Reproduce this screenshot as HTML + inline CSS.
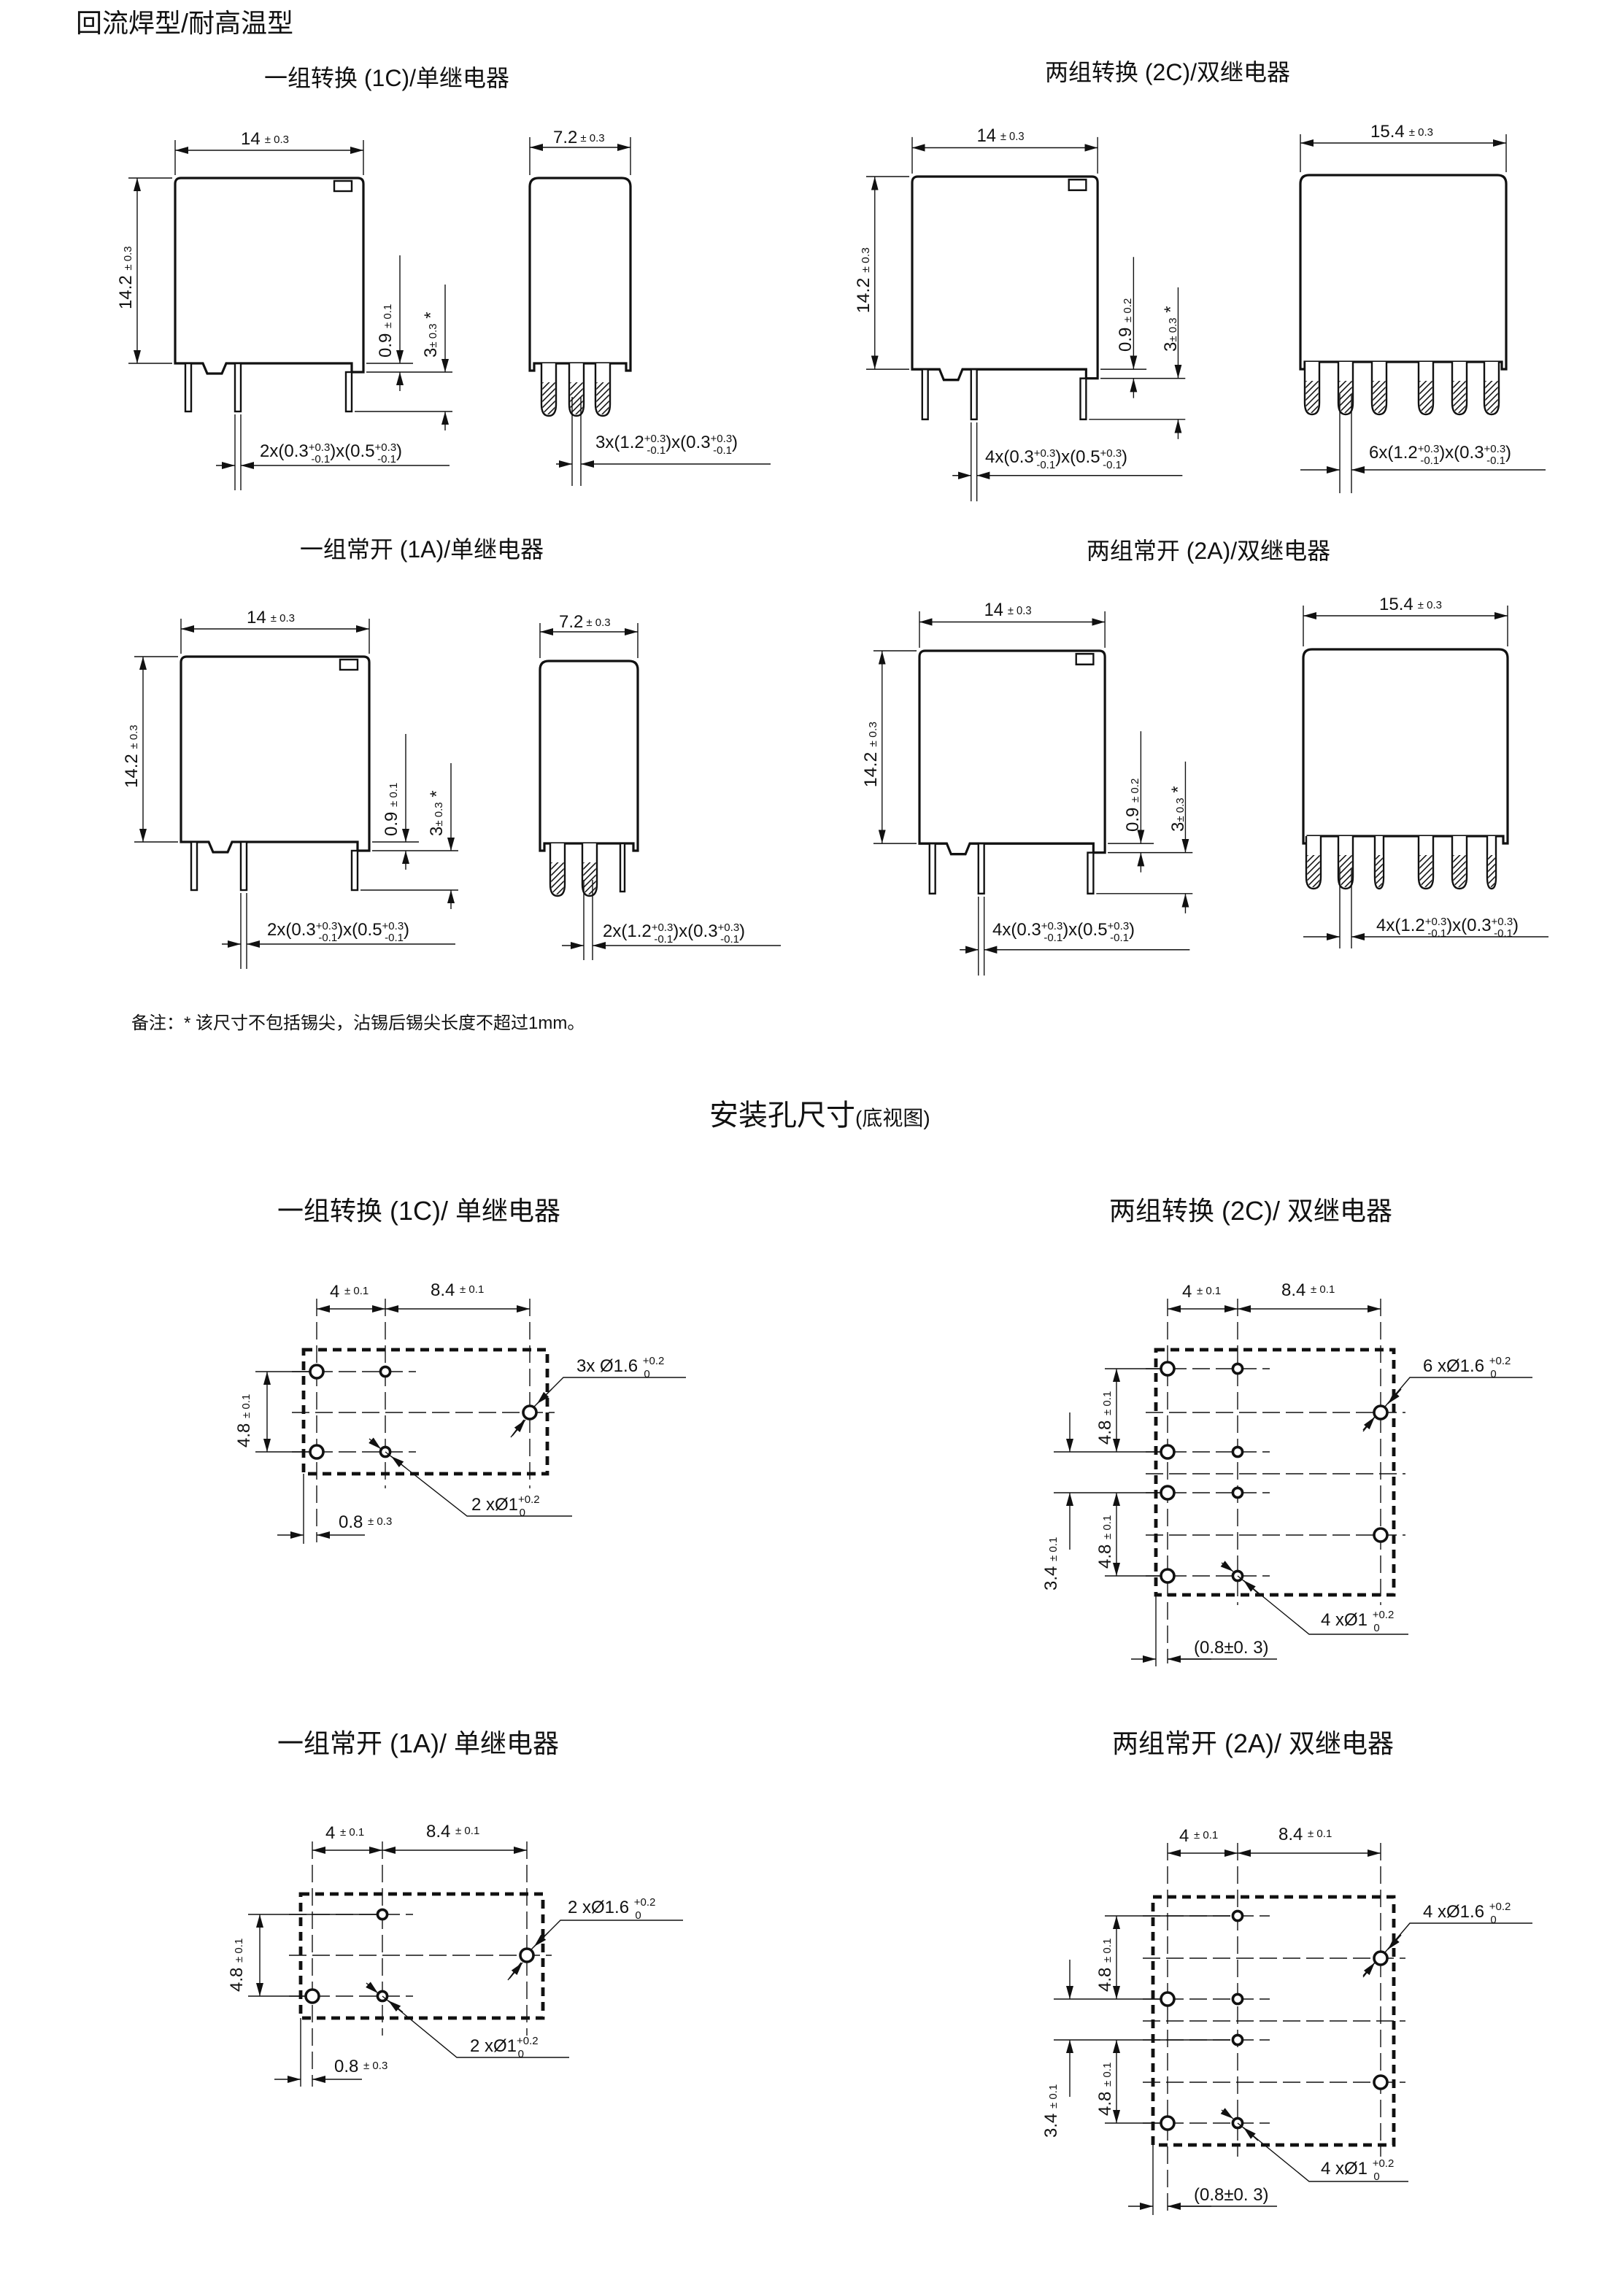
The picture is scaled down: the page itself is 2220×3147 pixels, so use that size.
<!DOCTYPE html>
<html><head><meta charset="utf-8"><style>
html,body{margin:0;padding:0;background:#fff;}
svg{display:block;}
text{font-family:"Liberation Sans","Noto Sans CJK SC",sans-serif;fill:#111;}
.t{font-size:12px;}
.s{font-size:7.5px;}
.ttl{font-size:16px;}
.ln{stroke:#111;stroke-width:0.7;fill:none;}
.dm{stroke:#111;stroke-width:0.7;fill:none;marker-end:url(#ar);}
.dd{stroke:#111;stroke-width:0.7;fill:none;marker-end:url(#ar);marker-start:url(#ar);}
.bd{stroke:#111;stroke-width:1.6;fill:#fff;}
.pn{stroke:#111;stroke-width:1.2;fill:#fff;}
.hole{stroke:#111;stroke-width:1.8;fill:#fff;}
.rect{stroke:#111;stroke-width:2.4;fill:none;stroke-dasharray:6,4;}
.cl{stroke:#111;stroke-width:0.7;fill:none;stroke-dasharray:12,4;}
</style></head><body>
<svg width="2220" height="3147" viewBox="0 0 1110 1573.5" xmlns="http://www.w3.org/2000/svg">
<defs>
<marker id="ar" markerUnits="userSpaceOnUse" markerWidth="9" markerHeight="5" refX="9" refY="2.5" orient="auto-start-reverse"><path d="M0,0 L9,2.5 L0,5 Z" fill="#111"/></marker>
<pattern id="hp" patternUnits="userSpaceOnUse" width="3" height="3" patternTransform="rotate(45)"><rect width="3" height="3" fill="#fff"/><line x1="0" y1="0" x2="0" y2="3" stroke="#111" stroke-width="1.6"/></pattern>
<g id="front">
<path class="bd" d="M0,127 V4 Q0,0 4,0 H125 Q129,0 129,4 V133 H121 V127 H35 L32,134 H22 L19,127 Z"/>
<rect class="pn" x="7" y="127" width="4" height="33"/>
<rect class="pn" x="41" y="127" width="4" height="33"/>
<rect class="pn" x="117" y="133" width="4" height="27"/>
<rect class="pn" x="109" y="2" width="12" height="7"/>
<path class="ln" d="M0,-2 V-26 M129,-2 V-26 M-2,0 H-32 M-2,127 H-32 M131,127 H163 M131,133 H190 M123,160 H190 M41,162 V214 M45,162 V214"/>
<path class="dd" d="M0,-19 H129"/>
<path class="dd" d="M-26,0 V127"/>
<path class="dm" d="M154,53 V127"/><path class="dm" d="M154,146 V133"/>
<path class="dm" d="M185,73 V133"/><path class="dm" d="M185,173 V160"/>
<path class="dm" d="M28,197 H41"/><path class="dm" d="M188,197 H45"/>
<text class="t" x="45" y="-23">14<tspan class="s" dx="3" dy="-1">± 0.3</tspan></text>
<text class="t" transform="translate(-30,90) rotate(-90)">14.2 <tspan class="s">± 0.3</tspan></text>
</g>
<g id="pinH"><path class="pn" d="M-5,0 V28 Q-5,36 0,36 Q5,36 5,28 V0"/><path d="M-4.3,13 V28 Q-4.3,35 0,35 Q4.3,35 4.3,28 V13 Z" fill="url(#hp)"/></g>
<g id="pinN"><path class="pn" d="M-3,0 V28 Q-3,36 0,36 Q3,36 3,28 V0"/><path d="M-2.4,13 V28 Q-2.4,35 0,35 Q2.4,35 2.4,28 V13 Z" fill="url(#hp)"/></g>
</defs>

<text x="52" y="22" style="font-size:18px">回流焊型/耐高温型</text>

<text class="ttl" x="265" y="59" text-anchor="middle">一组转换 (1C)/单继电器</text>
<text class="ttl" x="800" y="55" text-anchor="middle">两组转换 (2C)/双继电器</text>
<text class="ttl" x="289" y="382" text-anchor="middle">一组常开 (1A)/单继电器</text>
<text class="ttl" x="828" y="383" text-anchor="middle">两组常开 (2A)/双继电器</text>

<g transform="translate(120,122)"><use href="#front"/>
<text class="t" transform="translate(148,123) rotate(-90)">0.9 <tspan class="s">± 0.1</tspan></text>
<text class="t" transform="translate(179,123) rotate(-90)">3<tspan class="s">± 0.3</tspan> *</text>
<text class="t" x="58" y="191">2x(0.3<tspan class="s" dy="-4">+0.3</tspan><tspan class="s" dx="-13" dy="8">-0.1</tspan><tspan dy="-4">)x(0.5</tspan><tspan class="s" dy="-4">+0.3</tspan><tspan class="s" dx="-13" dy="8">-0.1</tspan><tspan dy="-4">)</tspan></text>
</g>
<g transform="translate(625,121) scale(0.985,1.04)"><use href="#front"/></g>
<g transform="translate(625,121)">
<text class="t" transform="translate(150,120) rotate(-90)">0.9 <tspan class="s">± 0.2</tspan></text>
<text class="t" transform="translate(181,120) rotate(-90)">3<tspan class="s">± 0.3</tspan> *</text>
<text class="t" x="50" y="196">4x(0.3<tspan class="s" dy="-4">+0.3</tspan><tspan class="s" dx="-13" dy="8">-0.1</tspan><tspan dy="-4">)x(0.5</tspan><tspan class="s" dy="-4">+0.3</tspan><tspan class="s" dx="-13" dy="8">-0.1</tspan><tspan dy="-4">)</tspan></text>
</g>
<g transform="translate(124,450)"><use href="#front"/>
<text class="t" transform="translate(148,123) rotate(-90)">0.9 <tspan class="s">± 0.1</tspan></text>
<text class="t" transform="translate(179,123) rotate(-90)">3<tspan class="s">± 0.3</tspan> *</text>
<text class="t" x="59" y="191">2x(0.3<tspan class="s" dy="-4">+0.3</tspan><tspan class="s" dx="-13" dy="8">-0.1</tspan><tspan dy="-4">)x(0.5</tspan><tspan class="s" dy="-4">+0.3</tspan><tspan class="s" dx="-13" dy="8">-0.1</tspan><tspan dy="-4">)</tspan></text>
</g>
<g transform="translate(630,446) scale(0.985,1.04)"><use href="#front"/></g>
<g transform="translate(630,446)">
<text class="t" transform="translate(150,124) rotate(-90)">0.9 <tspan class="s">± 0.2</tspan></text>
<text class="t" transform="translate(181,124) rotate(-90)">3<tspan class="s">± 0.3</tspan> *</text>
<text class="t" x="50" y="195">4x(0.3<tspan class="s" dy="-4">+0.3</tspan><tspan class="s" dx="-13" dy="8">-0.1</tspan><tspan dy="-4">)x(0.5</tspan><tspan class="s" dy="-4">+0.3</tspan><tspan class="s" dx="-13" dy="8">-0.1</tspan><tspan dy="-4">)</tspan></text>
</g>

<g transform="translate(363,122)">
<path class="bd" d="M0,132 V6 Q0,0 6,0 H63 Q69,0 69,6 V132 H66 V127 H3 V132 Z"/>
<use href="#pinH" x="13" y="127"/><use href="#pinH" x="32" y="127"/><use href="#pinH" x="50" y="127"/>
<path class="ln" d="M0,-2 V-28 M69,-2 V-28 M29,150 V211 M35,150 V211"/>
<path class="dd" d="M0,-21 H69"/>
<path class="dm" d="M18,196 H29"/><path class="dm" d="M165,196 H35"/>
<text class="t" x="16" y="-24">7.2<tspan class="s" dx="2" dy="-1">± 0.3</tspan></text>
<text class="t" x="45" y="185">3x(1.2<tspan class="s" dy="-4">+0.3</tspan><tspan class="s" dx="-13" dy="8">-0.1</tspan><tspan dy="-4">)x(0.3</tspan><tspan class="s" dy="-4">+0.3</tspan><tspan class="s" dx="-13" dy="8">-0.1</tspan><tspan dy="-4">)</tspan></text>
</g>
<g transform="translate(891,120)">
<path class="bd" d="M0,133 V6 Q0,0 6,0 H135 Q141,0 141,6 V133 H138 V128 H3 V133 Z"/>
<use href="#pinH" x="8" y="128"/><use href="#pinH" x="31" y="128"/><use href="#pinH" x="54" y="128"/><use href="#pinH" x="86" y="128"/><use href="#pinH" x="109" y="128"/><use href="#pinH" x="131" y="128"/>
<path class="ln" d="M0,-2 V-28 M141,-2 V-28 M27,150 V218 M35,150 V218"/>
<path class="dd" d="M0,-22 H141"/>
<path class="dm" d="M0,202 H27"/><path class="dm" d="M168,202 H35"/>
<text class="t" x="48" y="-26">15.4<tspan class="s" dx="3" dy="-1">± 0.3</tspan></text>
<text class="t" x="47" y="194">6x(1.2<tspan class="s" dy="-4">+0.3</tspan><tspan class="s" dx="-13" dy="8">-0.1</tspan><tspan dy="-4">)x(0.3</tspan><tspan class="s" dy="-4">+0.3</tspan><tspan class="s" dx="-13" dy="8">-0.1</tspan><tspan dy="-4">)</tspan></text>
</g>
<g transform="translate(370,453)">
<path class="bd" d="M0,130 V6 Q0,0 6,0 H61 Q67,0 67,6 V130 H64 V125 H3 V130 Z"/>
<use href="#pinH" x="12" y="125"/><use href="#pinH" x="34" y="125"/>
<rect class="pn" x="55" y="125" width="3" height="33"/>
<path class="ln" d="M30,150 V205 M36,150 V205"/>
<path class="dd" d="M0,-20 H67"/>
<path class="ln" d="M0,-2 V-26 M67,-2 V-26"/>
<path class="dm" d="M15,195 H30"/><path class="dm" d="M165,195 H36"/>
<text class="t" x="13" y="-23">7.2<tspan class="s" dx="2" dy="-1">± 0.3</tspan></text>
<text class="t" x="43" y="189">2x(1.2<tspan class="s" dy="-4">+0.3</tspan><tspan class="s" dx="-13" dy="8">-0.1</tspan><tspan dy="-4">)x(0.3</tspan><tspan class="s" dy="-4">+0.3</tspan><tspan class="s" dx="-13" dy="8">-0.1</tspan><tspan dy="-4">)</tspan></text>
</g>
<g transform="translate(893,445)">
<path class="bd" d="M0,133 V6 Q0,0 6,0 H134 Q140,0 140,6 V133 H137 V128 H3 V133 Z"/>
<use href="#pinH" x="7" y="128"/><use href="#pinH" x="29" y="128"/><use href="#pinN" x="52" y="128"/><use href="#pinH" x="84" y="128"/><use href="#pinH" x="107" y="128"/><use href="#pinN" x="129" y="128"/>
<path class="ln" d="M0,-2 V-30 M140,-2 V-30 M25,150 V205 M33,150 V205"/>
<path class="dd" d="M0,-23 H140"/>
<path class="dm" d="M0,197 H25"/><path class="dm" d="M168,197 H33"/>
<text class="t" x="52" y="-27">15.4<tspan class="s" dx="3" dy="-1">± 0.3</tspan></text>
<text class="t" x="50" y="193">4x(1.2<tspan class="s" dy="-4">+0.3</tspan><tspan class="s" dx="-13" dy="8">-0.1</tspan><tspan dy="-4">)x(0.3</tspan><tspan class="s" dy="-4">+0.3</tspan><tspan class="s" dx="-13" dy="8">-0.1</tspan><tspan dy="-4">)</tspan></text>
</g>

<text x="90" y="705" style="font-size:12px">备注：* 该尺寸不包括锡尖，沾锡后锡尖长度不超过1mm。</text>
<text x="486" y="771" style="font-size:20px">安装孔尺寸<tspan style="font-size:14px">(底视图)</tspan></text>

<text x="190" y="836" style="font-size:18px">一组转换 (1C)/ 单继电器</text>
<text x="760" y="836" style="font-size:18px">两组转换 (2C)/ 双继电器</text>
<text x="190" y="1201" style="font-size:18px">一组常开 (1A)/ 单继电器</text>
<text x="762" y="1201" style="font-size:18px">两组常开 (2A)/ 双继电器</text>

<g>
<path class="cl" d="M200,940 H285 M200,995 H285 M200,968 H380 M217,890 V1057 M264,890 V1020 M363,890 V1020"/>
<rect class="rect" x="208" y="925" width="167" height="85"/>
<circle class="hole" cx="217" cy="940" r="4.5"/><circle class="hole" cx="217" cy="995" r="4.5"/>
<circle class="hole" cx="264" cy="940" r="3.3"/><circle class="hole" cx="264" cy="995" r="3.3"/>
<circle class="hole" cx="363" cy="968" r="4.5"/>
<path class="ln" d="M175,940 H212 M175,995 H212 M208,1010 V1058"/>
<path class="dd" d="M183,940 V995"/>
<path class="dd" d="M217,897 H264"/><path class="dd" d="M264,897 H363"/>
<path class="dm" d="M190,1052 H208"/><path class="dm" d="M250,1052 H217"/>
<path class="ln" d="M366,964 L386,944 H470 M350,985 L359,973"/>
<path class="dm" d="M378,952 L368,962"/><path class="dm" d="M351,984 L360,973"/>
<path class="ln" d="M264,995 L320,1039 H392"/>
<path class="dm" d="M253,986 L261,993"/><path class="dm" d="M278,1006 L268,998"/>
<text class="t" x="226" y="889">4 <tspan class="s" dy="-2">± 0.1</tspan></text>
<text class="t" x="295" y="888">8.4 <tspan class="s" dy="-2">± 0.1</tspan></text>
<text class="t" transform="translate(171,992) rotate(-90)">4.8 <tspan class="s">± 0.1</tspan></text>
<text class="t" x="395" y="940">3x Ø1.6 <tspan class="s" dy="-5">+0.2</tspan><tspan class="s" dx="-14" dy="9">0</tspan></text>
<text class="t" x="323" y="1035">2 xØ1<tspan class="s" dy="-5">+0.2</tspan><tspan class="s" dx="-14" dy="9">0</tspan></text>
<text class="t" x="232" y="1047">0.8 <tspan class="s" dy="-2">± 0.3</tspan></text>
</g>

<g>
<path class="cl" d="M785,938 H870 M785,995 H870 M785,1023 H870 M785,1080 H870 M785,968 H963 M785,1010 H963 M785,1052 H963 M800,890 V1140 M848,890 V1100 M946,890 V1100"/>
<rect class="rect" x="792" y="925" width="163" height="168"/>
<circle class="hole" cx="800" cy="938" r="4.5"/><circle class="hole" cx="800" cy="995" r="4.5"/><circle class="hole" cx="800" cy="1023" r="4.5"/><circle class="hole" cx="800" cy="1080" r="4.5"/>
<circle class="hole" cx="848" cy="938" r="3.3"/><circle class="hole" cx="848" cy="995" r="3.3"/><circle class="hole" cx="848" cy="1023" r="3.3"/><circle class="hole" cx="848" cy="1080" r="3.3"/>
<circle class="hole" cx="946" cy="968" r="4.5"/><circle class="hole" cx="946" cy="1052" r="4.5"/>
<path class="ln" d="M757,938 H796 M722,995 H796 M722,1023 H796 M757,1080 H796 M792,1093 V1142"/>
<path class="dd" d="M765,938 V995"/><path class="dd" d="M765,1023 V1080"/>
<path class="dm" d="M733,968 V995"/><path class="dm" d="M733,1062 V1023"/>
<path class="dd" d="M800,897 H848"/><path class="dd" d="M848,897 H946"/>
<path class="dm" d="M775,1137 H792"/><path class="dm" d="M830,1137 H800"/>
<path class="ln" d="M800,1137 H875"/>
<path class="ln" d="M949,964 L966,944 H1050 M934,980 L942,971"/>
<path class="dm" d="M960,952 L951,962"/><path class="dm" d="M934,981 L942,971"/>
<path class="ln" d="M848,1080 L897,1120 H965"/>
<path class="dm" d="M837,1071 L845,1077"/><path class="dm" d="M862,1092 L852,1083"/>
<text class="t" x="810" y="889">4 <tspan class="s" dy="-2">± 0.1</tspan></text>
<text class="t" x="878" y="888">8.4 <tspan class="s" dy="-2">± 0.1</tspan></text>
<text class="t" transform="translate(761,990) rotate(-90)">4.8 <tspan class="s">± 0.1</tspan></text>
<text class="t" transform="translate(761,1075) rotate(-90)">4.8 <tspan class="s">± 0.1</tspan></text>
<text class="t" transform="translate(724,1090) rotate(-90)">3.4 <tspan class="s">± 0.1</tspan></text>
<text class="t" x="975" y="940">6 xØ1.6 <tspan class="s" dy="-5">+0.2</tspan><tspan class="s" dx="-14" dy="9">0</tspan></text>
<text class="t" x="905" y="1114">4 xØ1 <tspan class="s" dy="-5">+0.2</tspan><tspan class="s" dx="-14" dy="9">0</tspan></text>
<text class="t" x="818" y="1133">(0.8±0. 3)</text>
</g>

<g>
<path class="cl" d="M198,1312 H283 M198,1368 H283 M198,1340 H378 M214,1262 V1430 M262,1262 V1395 M361,1262 V1395"/>
<rect class="rect" x="206" y="1298" width="166" height="85"/>
<circle class="hole" cx="214" cy="1368" r="4.5"/>
<circle class="hole" cx="262" cy="1312" r="3.3"/><circle class="hole" cx="262" cy="1368" r="3.3"/>
<circle class="hole" cx="361" cy="1340" r="4.5"/>
<path class="ln" d="M170,1312 H258 M170,1368 H209 M206,1383 V1430"/>
<path class="dd" d="M178,1312 V1368"/>
<path class="dd" d="M214,1268 H262"/><path class="dd" d="M262,1268 H361"/>
<path class="dm" d="M188,1425 H206"/><path class="dm" d="M248,1425 H214"/>
<path class="ln" d="M364,1336 L384,1316 H468 M348,1357 L357,1345"/>
<path class="dm" d="M376,1324 L366,1334"/><path class="dm" d="M349,1356 L358,1345"/>
<path class="ln" d="M262,1368 L313,1410 H390"/>
<path class="dm" d="M251,1359 L259,1366"/><path class="dm" d="M276,1379 L266,1371"/>
<text class="t" x="223" y="1260">4 <tspan class="s" dy="-2">± 0.1</tspan></text>
<text class="t" x="292" y="1259">8.4 <tspan class="s" dy="-2">± 0.1</tspan></text>
<text class="t" transform="translate(166,1365) rotate(-90)">4.8 <tspan class="s">± 0.1</tspan></text>
<text class="t" x="389" y="1311">2 xØ1.6 <tspan class="s" dy="-5">+0.2</tspan><tspan class="s" dx="-14" dy="9">0</tspan></text>
<text class="t" x="322" y="1406">2 xØ1<tspan class="s" dy="-5">+0.2</tspan><tspan class="s" dx="-14" dy="9">0</tspan></text>
<text class="t" x="229" y="1420">0.8 <tspan class="s" dy="-2">± 0.3</tspan></text>
</g>

<g>
<path class="cl" d="M783,1313 H870 M783,1370 H870 M783,1398 H870 M783,1455 H870 M783,1342 H963 M783,1385 H963 M783,1427 H963 M800,1263 V1518 M848,1263 V1478 M946,1263 V1478"/>
<rect class="rect" x="790" y="1300" width="165" height="170"/>
<circle class="hole" cx="800" cy="1370" r="4.5"/><circle class="hole" cx="800" cy="1455" r="4.5"/>
<circle class="hole" cx="848" cy="1313" r="3.3"/><circle class="hole" cx="848" cy="1370" r="3.3"/><circle class="hole" cx="848" cy="1398" r="3.3"/><circle class="hole" cx="848" cy="1455" r="3.3"/>
<circle class="hole" cx="946" cy="1342" r="4.5"/><circle class="hole" cx="946" cy="1427" r="4.5"/>
<path class="ln" d="M757,1313 H843 M722,1370 H795 M722,1398 H843 M757,1455 H795 M790,1470 V1518"/>
<path class="dd" d="M765,1313 V1370"/><path class="dd" d="M765,1398 V1455"/>
<path class="dm" d="M733,1343 V1370"/><path class="dm" d="M733,1437 V1398"/>
<path class="dd" d="M800,1270 H848"/><path class="dd" d="M848,1270 H946"/>
<path class="dm" d="M773,1512 H790"/><path class="dm" d="M830,1512 H800"/>
<path class="ln" d="M800,1512 H875"/>
<path class="ln" d="M949,1338 L966,1318 H1050 M934,1354 L942,1345"/>
<path class="dm" d="M960,1326 L951,1336"/><path class="dm" d="M934,1355 L942,1345"/>
<path class="ln" d="M848,1455 L897,1495 H965"/>
<path class="dm" d="M837,1446 L845,1452"/><path class="dm" d="M862,1467 L852,1458"/>
<text class="t" x="808" y="1262">4 <tspan class="s" dy="-2">± 0.1</tspan></text>
<text class="t" x="876" y="1261">8.4 <tspan class="s" dy="-2">± 0.1</tspan></text>
<text class="t" transform="translate(761,1365) rotate(-90)">4.8 <tspan class="s">± 0.1</tspan></text>
<text class="t" transform="translate(761,1450) rotate(-90)">4.8 <tspan class="s">± 0.1</tspan></text>
<text class="t" transform="translate(724,1465) rotate(-90)">3.4 <tspan class="s">± 0.1</tspan></text>
<text class="t" x="975" y="1314">4 xØ1.6 <tspan class="s" dy="-5">+0.2</tspan><tspan class="s" dx="-14" dy="9">0</tspan></text>
<text class="t" x="905" y="1490">4 xØ1 <tspan class="s" dy="-5">+0.2</tspan><tspan class="s" dx="-14" dy="9">0</tspan></text>
<text class="t" x="818" y="1508">(0.8±0. 3)</text>
</g>
</svg>
</body></html>
